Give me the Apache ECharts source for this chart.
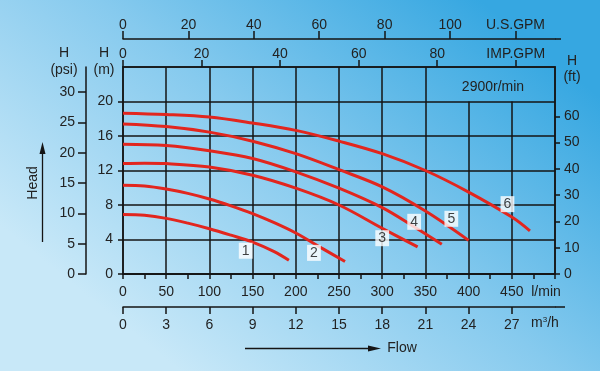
<!DOCTYPE html>
<html><head><meta charset="utf-8">
<script src="https://cdn.jsdelivr.net/npm/echarts@6/dist/echarts.min.js"></script>
<style>html,body{margin:0;padding:0;}#c{width:600px;height:371px;}</style>
</head><body><div id="c"></div>
<script>
// ---- data (flow in l/min, head in m) ----
const c1x = [0, 25, 50, 75, 100, 125, 150, 175, 192];
const c1y = [6.9, 6.8, 6.45, 5.9, 5.25, 4.5, 3.7, 2.6, 1.6];
const c2x = [0, 25, 50, 75, 100, 125, 150, 175, 200, 230, 257];
const c2y = [10.3, 10.2, 9.85, 9.35, 8.7, 7.9, 7.0, 5.95, 4.75, 3.0, 1.45];
const c3x = [0, 25, 50, 100, 150, 200, 250, 300, 341];
const c3y = [12.8, 12.85, 12.8, 12.4, 11.45, 9.95, 8.0, 5.3, 3.15];
const c4x = [0, 50, 100, 150, 200, 250, 300, 335, 369];
const c4y = [15.05, 14.9, 14.3, 13.4, 11.85, 9.95, 7.7, 5.6, 3.45];
const c5x = [0, 50, 100, 150, 200, 250, 300, 350, 400];
const c5y = [17.4, 17.1, 16.45, 15.4, 13.95, 12.1, 10.1, 7.3, 3.9];
const c6x = [0, 50, 100, 150, 200, 250, 300, 350, 400, 450, 471];
const c6y = [18.65, 18.5, 18.2, 17.5, 16.65, 15.4, 13.95, 12.0, 9.5, 6.6, 5.0];

const curveNames = ['1', '2', '3', '4', '5', '6'];
const labelX = [142, 221, 300, 337, 380, 445];
const labelY = [2.7, 2.45, 4.15, 6.05, 6.4, 8.1];

const flowTicks = [0, 50, 100, 150, 200, 250, 300, 350, 400, 450];
const m3hTicks = [0, 3, 6, 9, 12, 15, 18, 21, 24, 27];
const impTicks = [0, 20, 40, 60, 80, 100];
const usTicks = [0, 20, 40, 60, 80, 100, 120];
const mTicks = [0, 4, 8, 12, 16, 20];
const psiTicks = [0, 5, 10, 15, 20, 25, 30];
const ftTicks = [0, 10, 20, 30, 40, 50, 60];
const gridX = [50, 100, 150, 200, 250, 300, 350, 400, 450];
const gridXTop = [24, 24, 24, 24, 24, 24, 24, 20, 20];

const FLOW_MAX = 500, HEAD_MAX = 24;
const M_TO_PSI = 1.42233, M_TO_FT = 3.28084;
const LPM_TO_M3H = 0.06, LPM_TO_IMP = 0.219969, LPM_TO_US = 0.264172;

const FONT = 'Liberation Sans, Arial, Helvetica, sans-serif';
const TXT = '#222';
const LINE = '#151515';
const RED = '#e2261e';

const chart = echarts.init(document.getElementById('c'));
const zip = (xs, ys) => xs.map((x, i) => [x, ys[i]]);
const curves = [zip(c1x, c1y), zip(c2x, c2y), zip(c3x, c3y), zip(c4x, c4y), zip(c5x, c5y), zip(c6x, c6y)];

const lab = (extra) => Object.assign({color: TXT, fontSize: 14, fontFamily: FONT}, extra);
const tk = (len) => ({show: true, length: len, lineStyle: {color: LINE, width: 1.5}});
const axl = {show: true, onZero: false, lineStyle: {color: LINE, width: 1.5}};

const series = curves.map((d, i) => ({
  type: 'line', data: d, smooth: 0.35, symbol: 'none', xAxisIndex: 0, yAxisIndex: 0,
  lineStyle: {color: RED, width: 3}, z: 5, silent: true
}));
series.push({
  type: 'line', data: [], xAxisIndex: 0, yAxisIndex: 0, silent: true,
  markLine: {
    silent: true, symbol: ['none', 'none'], label: {show: false},
    lineStyle: {color: LINE, width: 1.5, type: 'solid'},
    data: gridX.map((v, i) => [{coord: [v, 0]}, {coord: [v, gridXTop[i]]}])
  }, z: 1
});
series.push({
  type: 'scatter', xAxisIndex: 0, yAxisIndex: 0, symbolSize: 1, silent: true, z: 10,
  itemStyle: {color: 'rgba(0,0,0,0)'},
  data: curveNames.map((n, i) => ({name: n, value: [labelX[i], labelY[i]]})),
  label: {show: true, position: 'inside', formatter: p => p.name, color: '#111', fontSize: 14,
    fontFamily: FONT, backgroundColor: '#fff', padding: [2, 3, 0, 3]}
});

const option = {
  animation: false,
  backgroundColor: {type: 'linear', x: 0.8, y: 0, x2: 0.3, y2: 1,
    colorStops: [{offset: 0, color: '#36a7e1'}, {offset: 0.5, color: '#86caee'}, {offset: 1, color: '#c8e8f8'}]},
  grid: {left: 123, right: 45, top: 67, bottom: 97, show: true, borderColor: LINE, borderWidth: 1.5,
    backgroundColor: 'transparent'},
  xAxis: [
    {type: 'value', position: 'bottom', min: 0, max: FLOW_MAX, interval: 25,
      axisLine: axl, axisTick: tk(5), splitLine: {show: false},
      axisLabel: lab({margin: 11, formatter: v => (flowTicks.indexOf(v) >= 0 ? String(v) : '')})},
    {type: 'value', position: 'bottom', offset: 33, min: 0, max: FLOW_MAX * LPM_TO_M3H, interval: 3,
      axisLine: axl, axisTick: Object.assign(tk(7), {customValues: m3hTicks}), splitLine: {show: false},
      axisLabel: lab({margin: 11, customValues: m3hTicks})},
    {type: 'value', position: 'top', offset: 0, min: 0, max: FLOW_MAX * LPM_TO_IMP, interval: 20,
      axisLine: axl, axisTick: Object.assign(tk(7), {customValues: impTicks}), splitLine: {show: false},
      axisLabel: lab({margin: 6, customValues: impTicks, formatter: v => (v === 100 ? 'IMP.GPM' : String(v))})},
    {type: 'value', position: 'top', offset: 28, min: 0, max: FLOW_MAX * LPM_TO_US, interval: 20,
      axisLine: axl, axisTick: Object.assign(tk(8), {customValues: usTicks}), splitLine: {show: false},
      axisLabel: lab({margin: 7, customValues: usTicks, formatter: v => (v === 120 ? 'U.S.GPM' : String(v))})}
  ],
  yAxis: [
    {type: 'value', position: 'left', min: 0, max: HEAD_MAX, interval: 4,
      axisLine: axl, axisTick: Object.assign(tk(5), {customValues: mTicks}),
      splitLine: {show: true, lineStyle: {color: LINE, width: 1.5}},
      axisLabel: lab({margin: 10, customValues: mTicks})},
    {type: 'value', position: 'left', offset: 37, min: 0, max: HEAD_MAX * M_TO_PSI, interval: 5,
      axisLine: axl, axisTick: Object.assign(tk(8), {customValues: psiTicks}), splitLine: {show: false},
      axisLabel: lab({margin: 11, customValues: psiTicks})},
    {type: 'value', position: 'right', min: 0, max: HEAD_MAX * M_TO_FT, interval: 10,
      axisLine: axl, axisTick: Object.assign(tk(5), {customValues: ftTicks}), splitLine: {show: false},
      axisLabel: lab({margin: 9, customValues: ftTicks})}
  ],
  series: series,
  graphic: [
    {type: 'line', shape: {x1: 555, y1: 307, x2: 565, y2: 307}, style: {stroke: LINE, lineWidth: 1.5}},
    {type: 'line', shape: {x1: 555, y1: 39, x2: 561, y2: 39}, style: {stroke: LINE, lineWidth: 1.5}},
    {type: 'text', x: 104, y: 53, style: {text: 'H', font: '14px ' + FONT, fill: TXT, align: 'center', verticalAlign: 'middle'}},
    {type: 'text', x: 104, y: 70, style: {text: '(m)', font: '14px ' + FONT, fill: TXT, align: 'center', verticalAlign: 'middle'}},
    {type: 'text', x: 64, y: 53, style: {text: 'H', font: '14px ' + FONT, fill: TXT, align: 'center', verticalAlign: 'middle'}},
    {type: 'text', x: 64, y: 70, style: {text: '(psi)', font: '14px ' + FONT, fill: TXT, align: 'center', verticalAlign: 'middle'}},
    {type: 'text', x: 572, y: 61, style: {text: 'H', font: '14px ' + FONT, fill: TXT, align: 'center', verticalAlign: 'middle'}},
    {type: 'text', x: 572, y: 77, style: {text: '(ft)', font: '14px ' + FONT, fill: TXT, align: 'center', verticalAlign: 'middle'}},
    {type: 'text', x: 493, y: 87, style: {text: '2900r/min', font: '14px ' + FONT, fill: TXT, align: 'center', verticalAlign: 'middle'}},
    {type: 'text', x: 546, y: 292, style: {text: 'l/min', font: '14px ' + FONT, fill: TXT, align: 'center', verticalAlign: 'middle'}},
    {type: 'text', x: 545, y: 323, style: {text: 'm{s|3}/h', rich: {s: {fontSize: 8, verticalAlign: 'top', padding: [0, 0, 7, 0], fill: TXT}}, font: '14px ' + FONT, fill: TXT, align: 'center', verticalAlign: 'middle'}},
    {type: 'text', x: 402, y: 348, style: {text: 'Flow', font: '14px ' + FONT, fill: TXT, align: 'center', verticalAlign: 'middle'}},
    {type: 'text', x: 33, y: 183, rotation: Math.PI / 2, style: {text: 'Head', font: '14px ' + FONT, fill: TXT, align: 'center', verticalAlign: 'middle'}},
    {type: 'line', shape: {x1: 42.5, y1: 242, x2: 42.5, y2: 150}, style: {stroke: LINE, lineWidth: 1.3}},
    {type: 'polygon', shape: {points: [[42.5, 142], [39.5, 154], [45.5, 154]]}, style: {fill: LINE}},
    {type: 'line', shape: {x1: 245, y1: 348.5, x2: 372, y2: 348.5}, style: {stroke: LINE, lineWidth: 1.3}},
    {type: 'polygon', shape: {points: [[381, 348.5], [368, 345.5], [368, 351.5]]}, style: {fill: LINE}}
  ]
};
chart.setOption(option);
</script></body></html>
